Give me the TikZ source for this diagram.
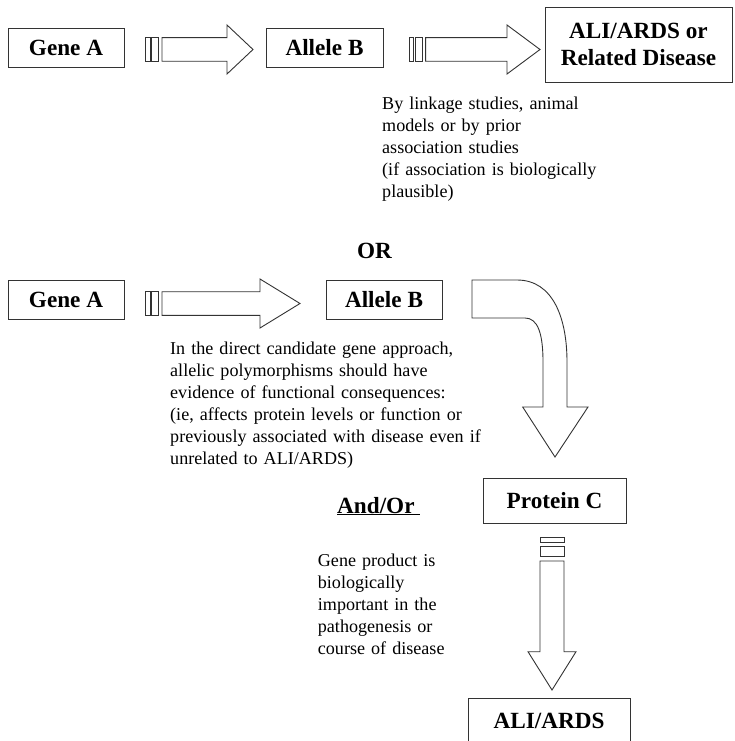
\documentclass[tikz,border=0pt]{standalone}
\usepackage{fontspec}
\setmainfont{Liberation Serif}
\newcommand\hstripearrow[4]{% #1 stripe start x, #2 head base x, #3 tip x, #4 centre y
  \draw[blk] (#1,{#4-11.8}) rectangle ({#1+4.3},{#4+11.8});
  \draw[blk] ({#1+5.8},{#4-11.8}) rectangle ({#1+13},{#4+11.8});
  \draw[blk] ({#1+16.3},{#4-11.8}) -- (#2,{#4-11.8}) -- (#2,{#4-24.5}) -- (#3,#4)
    -- (#2,{#4+24.5}) -- (#2,{#4+11.8}) -- ({#1+16.3},{#4+11.8}) -- cycle;
}
\begin{document}
\begin{tikzpicture}[x=1pt,y=-1pt,
  box/.style={draw=black!80, line width=0.9pt, inner sep=0pt, align=center,
    font=\fontsize{23.2}{27}\selectfont\bfseries},
  bodytext/.style={inner sep=0pt, anchor=base west, align=left, text width=420pt,
    font=\fontsize{18.1}{22}\selectfont},
  boldtext/.style={inner sep=0pt, font=\fontsize{23.2}{27}\selectfont\bfseries},
  blk/.style={draw=black!80, line width=0.9pt, fill=white, line join=miter}]
\useasboundingbox (0,0) rectangle (735,741);

% Row 1
\node[box, minimum width=116pt, minimum height=39pt] (geneA1) at (66,47.5) {Gene A};
\node[box, minimum width=117pt, minimum height=39pt] (alleleB1) at (324.5,47.5) {Allele B};
\node[box, minimum width=187pt, minimum height=75pt] (disease) at (638.5,44.5) {ALI/ARDS or\\Related Disease};
\hstripearrow{145.7}{227}{253}{49.5}
\hstripearrow{409.3}{507}{540}{49.5}
\node[bodytext] (note1) at (382,110) {By linkage studies, animal\\models or by prior\\association studies\\(if association is biologically\\plausible)};

\node[boldtext, anchor=base] (or) at (374.5,258) {OR};

% Row 2
\node[box, minimum width=116pt, minimum height=39pt] (geneA2) at (66,299.5) {Gene A};
\node[box, minimum width=116pt, minimum height=39pt] (alleleB2) at (384,299.5) {Allele B};
\hstripearrow{145.7}{260}{300}{303.5}
\node[bodytext] (note2) at (170,354) {In the direct candidate gene approach,\\allelic polymorphisms should have\\evidence of functional consequences:\\(ie, affects protein levels or function or\\previously associated with disease even if\\unrelated to ALI/ARDS)};

% curved block arrow
\draw[blk] (472,280) -- (517,280) .. controls (553,280) and (567,318) .. (567,362)
  -- (567,407) -- (588,407) -- (555,457) -- (522.7,407) -- (543,407) -- (543,362)
  .. controls (543,334) and (538,318) .. (525,318) -- (472,318) -- cycle;

\node[box, minimum width=143pt, minimum height=45pt] (proteinC) at (554.5,500.5) {Protein C};
\node[boldtext, anchor=base west] (andor) at (337,513) {\underline{And/Or\ }};
\node[bodytext] (note3) at (317.7,566) {Gene product is\\biologically\\important in the\\pathogenesis or\\course of disease};

% vertical striped block arrow
\draw[blk] (540,537) rectangle (564,542);
\draw[blk] (540,546) rectangle (564,556);
\draw[blk] (540,561) -- (564,561) -- (564,651.7) -- (576,651.7) -- (552,690)
  -- (528,651.7) -- (540,651.7) -- cycle;

\node[box, minimum width=162pt, minimum height=45pt] (ards) at (549,720.5) {ALI/ARDS};
\end{tikzpicture}
\end{document}
